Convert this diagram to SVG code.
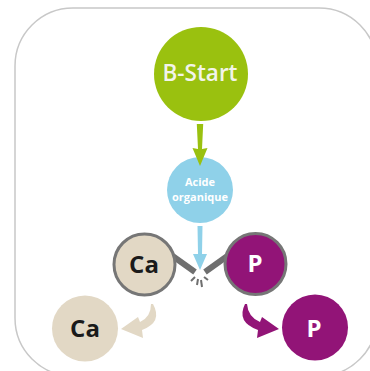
<svg xmlns="http://www.w3.org/2000/svg" width="370" height="371" viewBox="0 0 370 371">
<style>
.frame{fill:#ffffff;stroke:#c8c8c8;stroke-width:1.5}
.lbl{font-family:"Open Sans","Liberation Sans",sans-serif;text-anchor:middle}
.big{font-size:24px;font-weight:700}
.small{font-size:11px;font-weight:700;fill:#ffffff}
.ring{stroke:#767676;stroke-width:3}
.bond{stroke:#6f6f6f;stroke-width:6;stroke-linecap:butt}
.spark{stroke:#6f6f6f;stroke-width:2;stroke-linecap:butt}
</style>
<rect class="frame" x="15" y="8" width="362" height="368" rx="58" ry="58"/>
<g id="connectors">
  <line class="bond" x1="160" y1="247" x2="195" y2="272"/>
  <line class="bond" x1="240" y1="247" x2="205" y2="272"/>
  <path id="arrow-acide-break" fill="#8fd1e9" d="M197.5,226 L202.5,226 L202,254 L207,254 L200,270 L193,254 L198,254 Z"/>
  <g id="break">
    <line class="spark" x1="195" y1="277" x2="191" y2="281"/>
    <line class="spark" x1="198" y1="279" x2="197" y2="285"/>
    <line class="spark" x1="201" y1="280" x2="202" y2="287"/>
    <line class="spark" x1="204" y1="277" x2="208" y2="280"/>
  </g>
  <path id="arrow-ca" fill="#e2d8c5" d="M153,304 Q163,322 142,330 L143,338 L121,329 L138,317 L140,322 Q151,317 151,304 Z"/>
  <path id="arrow-p" fill="#921477" d="M245,304 Q236,322 258,330 L257,338 L279,329 L262,317 L260,322 Q248,317 247,304 Z"/>
</g>
<g id="node-bstart">
  <circle cx="201" cy="74" r="47" fill="#9ac10f"/>
  <text class="lbl" x="200" y="81" font-size="22.5" font-weight="600" fill="#f2f4ea">B-Start</text>
</g>
<g id="node-acide">
  <circle cx="200" cy="190" r="33" fill="#8fd1e9"/>
  <text class="lbl small" x="200" y="185.5">Acide</text>
  <text class="lbl small" x="200" y="200.5">organique</text>
</g>
<g id="arrow-bstart-acide">
  <path fill="#9ac10f" d="M196.8,124 L203.2,124 L202,149 L207.5,148 L200,166 L192.5,148 L198,149 Z"/>
</g>
<g id="node-ca-bound">
  <circle class="ring" cx="144.5" cy="264.5" r="30.5" fill="#e2d8c5"/>
  <text class="lbl big" x="144" y="273" fill="#1a1a1a">Ca</text>
</g>
<g id="node-p-bound">
  <circle class="ring" cx="255.5" cy="264" r="30.5" fill="#921477"/>
  <text class="lbl big" x="255" y="272" fill="#ffffff">P</text>
</g>
<g id="node-ca-free">
  <circle cx="85" cy="328.5" r="33" fill="#e2d8c5"/>
  <text class="lbl big" x="85" y="337" fill="#1a1a1a">Ca</text>
</g>
<g id="node-p-free">
  <circle cx="315" cy="327.5" r="33" fill="#921477"/>
  <text class="lbl big" x="314" y="337" fill="#ffffff">P</text>
</g>
</svg>
